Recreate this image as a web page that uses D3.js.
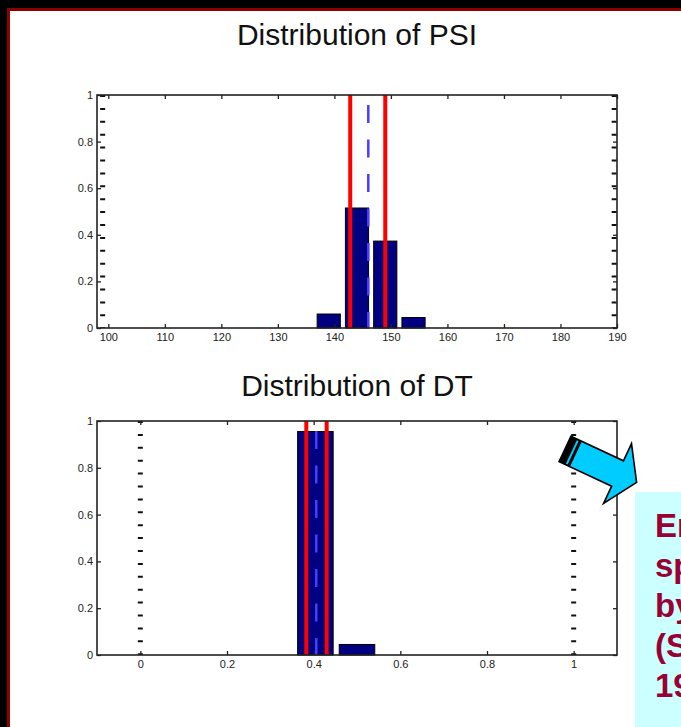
<!DOCTYPE html>
<html>
<head>
<meta charset="utf-8">
<script src="https://cdn.jsdelivr.net/npm/d3@7"></script>
<style>
  html, body { margin: 0; padding: 0; background: #000; }
  svg { display: block; }
  .tick text { font-family: 'Liberation Sans', Arial, sans-serif; font-size: 11px; fill: #222; }
  .title { font-family: 'Liberation Sans', Arial, sans-serif; font-size: 30px; fill: #111; }
  .note { font-family: 'Liberation Sans', Arial, sans-serif; font-weight: bold; font-size: 33px; fill: #990033; }
</style>
</head>
<body>
<svg id="chart" width="681" height="727"></svg>
<script>
// PSI histogram
const psiBinCenters = [139, 144, 149, 154];
const psiFreq = [0.06, 0.515, 0.373, 0.045];
const psiBounds = [142.8, 149.0];
const psiMean = [146.0];
const psiLimits = [99, 189.5];
const psiXTicks = [100, 110, 120, 130, 140, 150, 160, 170, 180, 190];

// DT histogram
const dtBinCenters = [0.404, 0.5];
const dtFreq = [0.955, 0.045];
const dtBounds = [0.383, 0.430];
const dtMean = [0.406];
const dtLimits = [0, 1];
const dtXTicks = [0, 0.2, 0.4, 0.6, 0.8, 1];

const yTicks = [0, 0.2, 0.4, 0.6, 0.8, 1];
const noteLines = ['Error', 'spread', 'by', '(Stensrud', '1999)'];

const W = 681, H = 727;
const svg = d3.select('#chart');

// frame: black, dark red rule, white page
svg.append('rect').attr('width', W).attr('height', H).attr('fill', '#000');
svg.append('rect').attr('x', 7).attr('y', 8).attr('width', W).attr('height', H).attr('fill', '#8b0000');
svg.append('rect').attr('x', 10).attr('y', 11).attr('width', W).attr('height', H).attr('fill', '#fff');

function drawPanel(opt) {
  const { box, domain, xTicks, centers, freq, binWidth, bounds, mean, limits, title, titleY } = opt;
  const x = d3.scaleLinear().domain(domain).range([box.left, box.right]);
  const y = d3.scaleLinear().domain([0, 1]).range([box.bottom, box.top]);
  const g = svg.append('g');

  g.append('text')
    .attr('class', 'title')
    .attr('x', (box.left + box.right) / 2)
    .attr('y', titleY)
    .attr('text-anchor', 'middle')
    .text(title);

  // bars
  g.selectAll('.bar')
    .data(centers)
    .join('rect')
    .attr('class', 'bar')
    .attr('x', d => x(d - binWidth * 0.41))
    .attr('width', d => x(d + binWidth * 0.41) - x(d - binWidth * 0.41))
    .attr('y', (d, i) => y(freq[i]))
    .attr('height', (d, i) => y(0) - y(freq[i]))
    .attr('fill', '#000080')
    .attr('stroke', '#000')
    .attr('stroke-width', 1);

  // bound lines (red) and mean (blue dashed)
  g.selectAll('.bound')
    .data(bounds)
    .join('line')
    .attr('x1', d => x(d)).attr('x2', d => x(d))
    .attr('y1', y(1)).attr('y2', y(0))
    .attr('stroke', '#ff0000')
    .attr('stroke-width', 4);

  g.selectAll('.mean')
    .data(mean)
    .join('line')
    .attr('x1', d => x(d)).attr('x2', d => x(d))
    .attr('y1', y(1)).attr('y2', y(0))
    .attr('stroke', '#4a3cff')
    .attr('stroke-width', 2.5)
    .attr('stroke-dasharray', '18 16.5')
    .attr('stroke-dashoffset', -10);

  // dotted limit lines
  g.selectAll('.limit')
    .data(limits)
    .join('line')
    .attr('x1', d => x(d)).attr('x2', d => x(d))
    .attr('y1', y(1)).attr('y2', y(0))
    .attr('stroke', '#111')
    .attr('stroke-width', 5)
    .attr('stroke-dasharray', '2 10.9');

  // axes, ticks pointing inward
  g.append('g')
    .attr('transform', 'translate(0,' + box.bottom + ')')
    .call(d3.axisBottom(x).tickValues(xTicks).tickSizeInner(-4).tickSizeOuter(0).tickPadding(5).tickFormat(d3.format('')))
    .call(a => a.select('.domain').remove());
  g.append('g')
    .attr('transform', 'translate(0,' + box.top + ')')
    .call(d3.axisTop(x).tickValues(xTicks).tickSizeInner(-4).tickSizeOuter(0).tickFormat(''))
    .call(a => a.select('.domain').remove());
  g.append('g')
    .attr('transform', 'translate(' + box.left + ',0)')
    .call(d3.axisLeft(y).tickValues(yTicks).tickSizeInner(-4).tickSizeOuter(0).tickPadding(4).tickFormat(d3.format('')))
    .call(a => a.select('.domain').remove());
  g.append('g')
    .attr('transform', 'translate(' + box.right + ',0)')
    .call(d3.axisRight(y).tickValues(yTicks).tickSizeInner(-4).tickSizeOuter(0).tickFormat(''))
    .call(a => a.select('.domain').remove());
  g.selectAll('.tick line').attr('stroke', '#222').attr('stroke-width', 1.3);

  g.append('rect')
    .attr('x', box.left).attr('y', box.top)
    .attr('width', box.right - box.left).attr('height', box.bottom - box.top)
    .attr('fill', 'none')
    .attr('stroke', '#222')
    .attr('stroke-width', 1.6);
}

drawPanel({
  box: { left: 97, right: 617, top: 95, bottom: 328 },
  domain: [98, 190],
  xTicks: psiXTicks,
  centers: psiBinCenters,
  freq: psiFreq,
  binWidth: 5,
  bounds: psiBounds,
  mean: psiMean,
  limits: psiLimits,
  title: 'Distribution of PSI',
  titleY: 45
});

drawPanel({
  box: { left: 97, right: 617, top: 421, bottom: 655 },
  domain: [-0.1, 1.1],
  xTicks: dtXTicks,
  centers: dtBinCenters,
  freq: dtFreq,
  binWidth: 0.1,
  bounds: dtBounds,
  mean: dtMean,
  limits: dtLimits,
  title: 'Distribution of DT',
  titleY: 396
});

// callout arrow
const arrow = svg.append('g').attr('transform', 'translate(565,449) rotate(25)');
arrow.append('polygon')
  .attr('points', [[0, -14], [58, -14], [58, -33], [79, 0], [58, 33], [58, 14], [0, 14]].map(p => p.join(',')).join(' '))
  .attr('fill', '#00ccff')
  .attr('stroke', '#000')
  .attr('stroke-width', 1.6)
  .attr('stroke-linejoin', 'miter');
arrow.append('rect').attr('x', 0).attr('y', -14).attr('width', 12).attr('height', 28).attr('fill', '#000');
arrow.append('rect').attr('x', 7).attr('y', -13).attr('width', 2).attr('height', 26).attr('fill', '#00ccff');

// callout box
svg.append('rect')
  .attr('x', 635).attr('y', 492)
  .attr('width', 60).attr('height', 240)
  .attr('fill', '#ccffff');
svg.append('g')
  .selectAll('text')
  .data(noteLines)
  .join('text')
  .attr('class', 'note')
  .attr('x', 655)
  .attr('y', (d, i) => 537 + i * 40)
  .text(d => d);
</script>
</body>
</html>
